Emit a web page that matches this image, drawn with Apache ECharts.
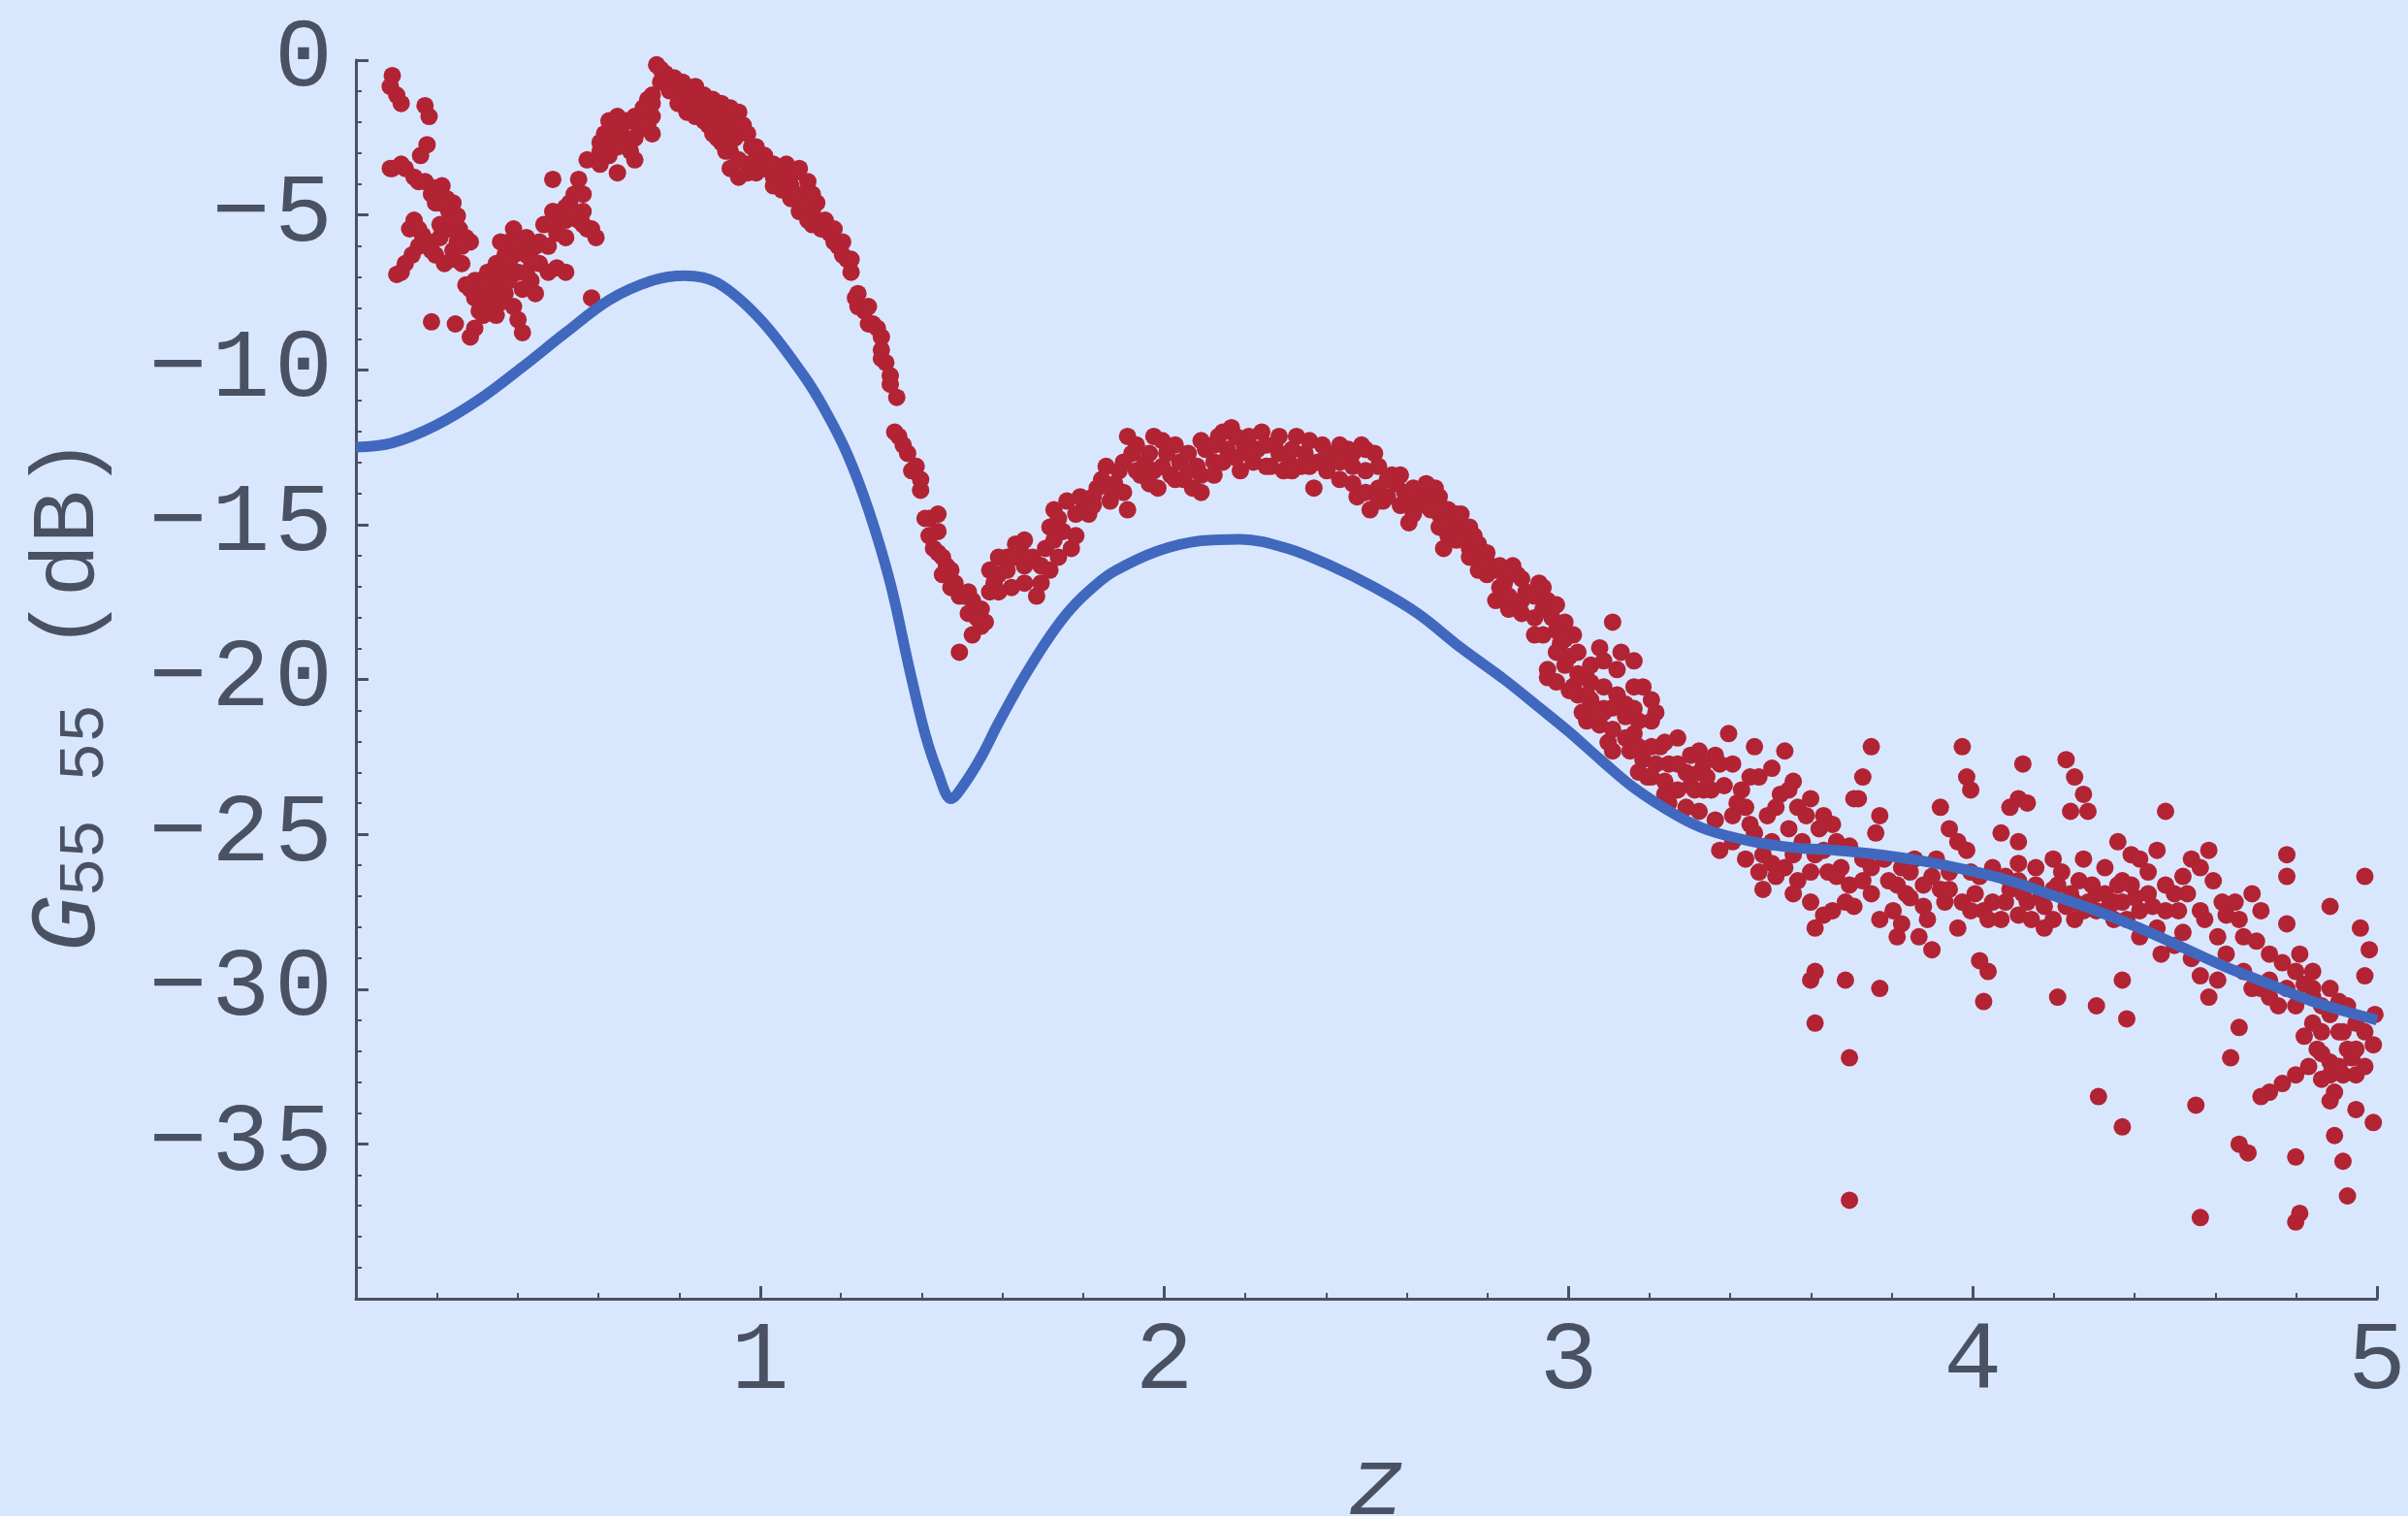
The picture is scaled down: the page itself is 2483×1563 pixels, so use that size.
<!DOCTYPE html>
<html><head><meta charset="utf-8">
<script src="https://cdn.jsdelivr.net/npm/echarts@6/dist/echarts.min.js"></script>
<style>html,body{margin:0;padding:0;background:#d9e7fe;overflow:hidden}#c{width:2483px;height:1563px}</style>
</head><body><div id="c"></div>
<script>
// ---- tick labels ----
const xTickLabels = [1, 2, 3, 4, 5];
const yTickLabels = [0, -5, -10, -15, -20, -25, -30, -35];

// ---- theoretical curve (blue) ----
const curveZ = [0.000,0.090,0.197,0.305,0.412,0.519,0.626,0.733,0.813,0.894,1.001,1.108,1.161,1.215,1.268,1.322,1.370,1.408,1.440,1.472,1.504,1.547,1.590,1.654,1.717,1.770,1.830,1.877,1.984,2.091,2.188,2.305,2.412,2.520,2.627,2.734,2.841,2.927,3.002,3.080,3.162,3.269,3.342,3.449,3.556,3.663,3.770,3.878,3.985,4.092,4.199,4.306,4.413,4.520,4.627,4.734,4.841,5.000];
const curveG = [-12.50,-12.36,-11.80,-10.96,-9.91,-8.80,-7.75,-7.12,-6.96,-7.19,-8.38,-10.19,-11.31,-12.70,-14.52,-16.89,-19.70,-21.75,-23.01,-23.85,-23.40,-22.50,-21.40,-19.90,-18.60,-17.70,-16.95,-16.50,-15.85,-15.52,-15.47,-15.77,-16.33,-17.03,-17.87,-18.98,-20.00,-20.90,-21.70,-22.60,-23.50,-24.40,-24.85,-25.22,-25.43,-25.52,-25.66,-25.87,-26.15,-26.50,-26.98,-27.47,-28.03,-28.66,-29.29,-29.84,-30.40,-31.00];

// ---- measured points (red), [z, G] ----
const measuredLow = [
[0.090,-0.50],[0.085,-0.85],[0.101,-1.13],[0.112,-1.40],[0.171,-1.47],[0.181,-1.82],
[0.176,-2.73],[0.160,-3.08],[0.090,-3.50],[0.122,-3.50],[0.144,-3.78],[0.171,-3.92],[0.197,-4.13],[0.213,-4.06],[0.224,-4.47],[0.240,-4.61],[0.230,-4.89],[0.251,-5.03],[0.256,-5.45],[0.272,-5.73],[0.283,-5.87],
[0.144,-5.17],[0.133,-5.45],[0.165,-5.66],[0.181,-5.87],[0.155,-6.01],[0.139,-6.29],[0.122,-6.57],[0.101,-6.92],[0.197,-6.29],[0.219,-6.57],[0.240,-6.43],[0.262,-6.57],
[0.294,-7.12],[0.283,-7.40],[0.305,-7.68],[0.326,-7.54],[0.347,-7.12],[0.369,-6.85],[0.358,-7.82],[0.337,-7.96],[0.315,-8.24],[0.294,-8.66],[0.283,-8.94],
[0.390,-6.29],[0.379,-5.87],[0.390,-5.45],[0.412,-5.87],[0.422,-6.29],[0.444,-6.01],[0.454,-6.57],[0.476,-6.85],[0.497,-6.71],[0.519,-6.85],[0.433,-7.12],[0.412,-7.40],[0.444,-7.54],[0.390,-7.96],[0.401,-8.38],[0.412,-8.80],[0.187,-8.45],[0.246,-8.52],[0.583,-7.68],
[0.487,-5.17],[0.508,-4.89],[0.529,-4.61],[0.540,-4.33],[0.551,-5.17],[0.572,-5.45],[0.594,-5.73],[0.487,-3.85],[0.551,-3.85],[0.572,-3.22],[0.604,-3.36],[0.626,-3.08],[0.615,-2.38],[0.626,-1.96],[0.647,-2.24],[0.669,-2.52],[0.679,-2.94],[0.690,-2.52],[0.711,-2.10],[0.733,-1.82],[0.722,-1.27],[0.733,-2.38],[0.690,-3.22],[0.647,-3.64],
[0.197,-4.61],[0.208,-5.31],[0.230,-5.45],[0.251,-5.87],[0.240,-6.15],[0.305,-7.12],[0.326,-6.85],[0.347,-6.57],[0.369,-6.29],[0.358,-5.87],[0.337,-7.40],[0.369,-7.54],[0.305,-8.10],[0.454,-5.87],[0.476,-6.01],[0.497,-5.59],[0.519,-5.17],[0.519,-5.73],[0.562,-4.89],[0.583,-5.45],[0.604,-2.94],[0.637,-2.66],[0.658,-2.10],[0.679,-1.96],[0.701,-2.24],[0.722,-1.68],[0.733,-1.40]
];
const measuredLowFill = [
[0.085,-3.50],[0.112,-3.36],[0.112,-6.85],[0.155,-3.92],[0.155,-5.45],[0.187,-4.33],[0.187,-6.15],[0.208,-4.61],[0.208,-5.73],[0.240,-5.17],[0.262,-6.01],[0.272,-7.26],[0.294,-7.68],[0.315,-7.26],[0.315,-7.82],[0.347,-7.68],[0.347,-8.24],[0.379,-6.57],[0.379,-7.12],[0.401,-6.01],[0.401,-6.85],[0.422,-5.73],[0.422,-6.85],[0.433,-6.43],[0.465,-5.31],[0.487,-4.89],[0.519,-4.75],[0.540,-5.03],[0.562,-4.33],[0.562,-5.31],[0.604,-2.66],[0.626,-2.52],[0.647,-1.82],[0.647,-2.80],[0.669,-1.96],[0.690,-1.82],[0.711,-1.54],[0.733,-1.13],[0.722,-2.10]
];
const measuredPeak = [
[0.744,-0.15],[0.765,-0.43],[0.787,-0.57],[0.808,-0.71],[0.829,-0.99],[0.840,-1.27],[0.861,-1.54],[0.883,-1.68],[0.904,-1.82],[0.926,-1.96],[0.947,-1.68],[0.958,-2.10],[0.872,-2.10],[0.894,-2.52],[0.915,-2.94],[0.926,-3.50],[0.947,-3.78],[0.969,-3.36],[0.990,-3.22],[1.011,-3.50],[1.033,-3.78],[1.054,-3.50],[1.097,-3.50],[1.118,-3.92],[1.054,-4.19],[1.076,-4.47],[1.097,-4.89],[1.118,-5.17],[1.140,-4.61],[1.151,-5.45],[1.172,-5.59],[1.193,-6.01],[1.215,-6.43],[1.225,-6.85],[1.236,-7.68],[1.258,-8.10],[1.279,-8.52],[1.300,-8.94],[1.311,-9.77],[1.322,-10.19],[1.338,-10.89],[1.343,-12.15],[1.365,-12.70],[1.386,-13.12],[1.397,-13.89],[1.418,-14.80],[1.440,-15.22],[1.429,-15.77],[1.461,-16.33],[1.482,-16.89],[1.504,-17.31],[1.525,-17.45],[1.547,-17.73],[1.557,-18.15],[1.525,-18.56],[1.493,-19.12],[1.568,-17.17],[1.590,-16.61],[1.611,-16.05],[1.643,-15.77],[1.654,-16.89],[1.440,-14.66],[1.451,-16.05],[1.472,-16.47],[1.579,-16.89],[1.632,-15.63],[1.622,-17.03],[1.547,-18.28],
[0.797,-0.99],[0.819,-1.40],[0.851,-1.13],[0.894,-2.10],[0.915,-2.24],[0.937,-2.52],[0.979,-2.80],[1.011,-3.08],[1.054,-3.78],[1.076,-4.06],[1.108,-4.33],[1.129,-4.89],[1.161,-5.17],[1.183,-5.87],[1.204,-6.29]
];
const measuredPeakFill = [
[0.754,-0.29],[0.754,-0.71],[0.776,-0.57],[0.776,-0.99],[0.797,-0.71],[0.797,-1.40],[0.819,-0.85],[0.819,-1.68],[0.840,-0.85],[0.840,-1.82],[0.861,-1.13],[0.861,-1.96],[0.883,-1.27],[0.883,-2.38],[0.904,-1.40],[0.904,-2.66],[0.926,-1.54],[0.926,-2.94],[0.947,-2.10],[0.947,-3.22],[0.969,-2.38],[0.969,-3.64],[0.990,-2.80],[0.990,-3.64],[1.011,-3.36],[1.033,-3.36],[1.033,-4.06],[1.065,-3.36],[1.065,-3.92],[1.086,-3.64],[1.086,-4.33],[1.108,-4.75],[1.129,-4.33],[1.129,-5.31],[1.161,-5.45],[1.183,-5.45],[1.204,-5.87],[1.225,-6.43],
[1.242,-7.54],[1.242,-7.96],[1.268,-7.96],[1.268,-8.52],[1.290,-8.66],[1.300,-9.36],[1.300,-9.64],[1.322,-10.47],[1.333,-12.01],[1.354,-12.43],[1.375,-13.26],[1.397,-13.54],[1.408,-14.80],[1.418,-15.36],[1.440,-15.91],[1.451,-16.61],[1.472,-17.03],[1.493,-17.31],[1.515,-17.17],[1.515,-17.87],[1.536,-18.01],[1.568,-16.47],[1.590,-16.05],[1.590,-17.17],[1.611,-16.47],[1.632,-16.05],[1.654,-15.50],[1.654,-16.33]
];
const measuredMid = [
[1.684,-17.31],[1.674,-16.05],[1.706,-15.77],[1.727,-15.50],[1.749,-15.22],[1.770,-15.77],[1.727,-14.52],[1.759,-14.24],[1.792,-14.10],[1.813,-14.66],[1.834,-13.82],[1.856,-13.12],[1.877,-13.68],[1.909,-14.52],[1.909,-12.15],[1.974,-12.15],[1.920,-12.70],[1.941,-13.40],[1.974,-13.26],[2.006,-12.70],[2.038,-12.98],[2.070,-13.82],[2.091,-13.96],[2.102,-12.57],[2.134,-12.15],[2.166,-11.87],[2.198,-12.43],[2.220,-12.98],[2.241,-12.01],[2.273,-12.43],[2.306,-12.84],[2.327,-12.15],[2.348,-12.70],[2.370,-13.82],[2.391,-12.43],[2.413,-12.98],[2.455,-12.57],[2.488,-12.43],[2.520,-12.70],[2.434,-13.54],[2.477,-14.10],[2.509,-14.52],[2.530,-13.82],[2.563,-13.40],[2.595,-13.96],[2.605,-14.94],[2.627,-14.10],[2.670,-13.82],[2.680,-14.66],[2.691,-15.77],[2.713,-14.94],[2.734,-14.66],[2.745,-15.50],[2.766,-15.36],[2.788,-16.05],[2.820,-16.47],[2.862,-16.33],[2.820,-17.45],[2.852,-17.73],[2.895,-17.17],[2.927,-16.89],[2.948,-17.45],[2.916,-18.56],[2.959,-18.01],[2.980,-18.84],[3.002,-19.26],[2.948,-19.68],[3.012,-18.56],[3.045,-19.96],[3.055,-20.66],[3.087,-20.24],[3.109,-18.15],[3.077,-18.98],[3.130,-19.12],[3.162,-19.40],[3.184,-20.24],[3.141,-20.80],[3.216,-21.07],
[1.802,-14.38],[1.845,-13.54],[1.888,-13.26],[1.952,-12.98],[1.984,-13.82],[2.016,-13.40],[2.048,-13.54],[2.081,-13.12],[2.123,-12.98],[2.156,-12.57],[2.188,-13.26],[2.230,-12.57],[2.263,-13.12],[2.295,-13.26],[2.338,-13.12],[2.380,-12.98],[2.423,-12.70],[2.466,-13.12],[2.498,-13.26],[2.541,-14.24],[2.573,-13.68],[2.616,-14.38],[2.648,-13.96],[2.659,-14.52],[2.702,-15.36],[2.723,-15.08],[2.755,-15.77],[2.777,-16.19],[2.798,-16.61],[2.841,-16.89],[2.873,-16.61],[2.884,-17.45],[2.937,-17.73],[2.970,-18.42],[2.991,-18.15],
[2.948,-19.94],[3.012,-20.22],[3.034,-21.06],[3.055,-20.78],[3.077,-21.47],[3.098,-22.03],[3.120,-20.50],[3.141,-21.20],[3.162,-21.75],[3.184,-22.59],[3.205,-21.34],[3.227,-22.17],[3.248,-22.73],[3.270,-21.89],[3.291,-23.01],[3.312,-23.57],[3.334,-22.73],[3.323,-24.26],[3.291,-24.13],[3.248,-23.99],[3.195,-23.15],
[3.023,-20.50],[3.087,-21.06],[3.109,-21.61],[3.152,-22.31],[3.173,-21.34],[3.216,-22.73],[3.238,-23.29],[3.270,-23.57],[3.302,-22.45],[3.334,-23.57]
];
const measuredMidFill = [
[1.695,-16.33],[1.695,-16.89],[1.717,-15.08],[1.717,-16.47],[1.738,-14.80],[1.738,-16.05],[1.781,-14.66],[1.781,-15.36],[1.824,-14.10],[1.824,-14.38],[1.866,-13.82],[1.866,-14.24],[1.899,-12.98],[1.899,-13.96],[1.931,-12.43],[1.931,-13.26],[1.963,-12.70],[1.963,-13.68],[1.995,-12.29],[1.995,-13.12],[2.027,-12.43],[2.027,-13.54],[2.059,-12.70],[2.059,-13.26],[2.091,-12.29],[2.091,-13.40],[2.123,-12.43],[2.123,-13.40],[2.145,-12.01],[2.145,-12.98],[2.177,-12.15],[2.177,-12.84],[2.209,-12.15],[2.209,-12.70],[2.252,-12.43],[2.252,-13.12],[2.284,-12.15],[2.284,-12.70],[2.316,-12.57],[2.316,-13.26],[2.359,-12.29],[2.359,-13.12],[2.402,-12.70],[2.402,-13.26],[2.434,-12.43],[2.434,-12.98],[2.466,-12.70],[2.466,-13.68],[2.498,-12.57],[2.498,-13.96],[2.530,-13.12],[2.530,-14.24],[2.552,-13.54],[2.552,-14.10],[2.584,-13.40],[2.584,-14.38],[2.616,-13.82],[2.616,-14.66],[2.648,-13.68],[2.648,-14.38],[2.680,-14.10],[2.680,-15.08],[2.702,-14.52],[2.702,-14.94],[2.723,-14.66],[2.723,-15.50],[2.755,-15.08],[2.755,-16.05],[2.777,-15.63],[2.777,-16.47],[2.798,-15.91],[2.798,-16.19],[2.830,-16.33],[2.830,-17.03],[2.852,-16.61],[2.852,-17.31],[2.884,-16.75],[2.884,-17.87],[2.916,-17.31],[2.916,-18.01],[2.937,-17.03],[2.937,-18.56],[2.970,-17.59],[2.970,-19.12],[2.991,-18.70],[2.991,-19.54],[3.023,-19.12],[3.023,-19.82],[3.055,-19.54],[3.055,-20.10],[3.087,-19.40],[3.087,-20.94],[3.120,-19.68],[3.120,-20.52],[3.162,-20.24],[3.162,-20.94],[3.205,-20.66],
[2.970,-20.08],[3.002,-20.36],[3.045,-20.50],[3.045,-21.34],[3.066,-21.06],[3.109,-20.92],[3.109,-22.31],[3.141,-21.89],[3.173,-22.17],[3.173,-22.99],[3.205,-22.17],[3.205,-23.15],[3.238,-22.03],[3.238,-23.71],[3.270,-22.73],[3.302,-23.43],[3.323,-22.31],[3.323,-23.01]
];
const measuredTail = [
[3.396,-21.75],[3.363,-22.45],[3.406,-22.73],[3.385,-23.43],[3.428,-23.57],[3.471,-23.15],[3.460,-22.17],[3.535,-22.31],[3.503,-22.87],[3.524,-23.71],[3.492,-24.40],[3.556,-23.29],[3.567,-24.13],[3.545,-24.82],[3.588,-24.40],[3.578,-25.24],[3.620,-24.82],[3.653,-24.68],[3.663,-25.24],[3.374,-25.52],[3.406,-25.24],[3.481,-25.66],[3.438,-25.80],[3.535,-26.08],[3.567,-26.50],[3.481,-26.78],[3.610,-25.66],[3.642,-26.22],[3.674,-26.08],[3.695,-26.64],[3.685,-27.19],[3.653,-27.47],[3.610,-28.03],[3.631,-27.61],[3.706,-27.33],
[3.749,-22.17],[3.728,-23.15],[3.717,-23.85],[3.770,-24.40],[3.760,-24.96],[3.781,-25.80],[3.792,-26.50],[3.824,-26.08],[3.856,-25.80],[3.835,-26.92],[3.803,-27.47],[3.824,-27.89],[3.878,-27.33],[3.899,-26.36],[3.920,-26.78],[3.942,-24.82],[3.920,-24.13],[3.963,-25.24],[3.985,-25.52],[3.942,-26.22],[3.974,-27.19],[3.963,-28.03],[3.867,-28.31],[3.899,-28.73],
[3.995,-26.22],[4.006,-26.92],[4.027,-27.47],[4.049,-27.19],[4.070,-27.75],[4.092,-26.78],[4.113,-26.50],[4.135,-27.19],[4.156,-26.64],[4.177,-27.33],[4.199,-26.78],[4.220,-26.22],[4.242,-26.92],[4.263,-26.50],[4.285,-27.19],[4.306,-27.47],[4.327,-26.92],[4.349,-27.75],[4.370,-27.19],[4.392,-26.64],[4.413,-27.47],[4.434,-26.92],[4.456,-28.03],[4.477,-27.47],[4.499,-26.92],[4.520,-26.36],[4.541,-25.80],[4.563,-26.08],[4.584,-25.52],
[4.499,-28.59],[4.541,-29.01],[4.563,-29.57],[4.584,-30.26],[4.606,-29.71],[4.627,-27.61],[4.649,-27.19],[4.670,-28.31],[4.691,-26.92],[4.713,-27.47],[4.713,-29.98],[4.734,-29.71],[4.756,-30.54],[4.799,-29.43],[4.820,-29.84],[4.841,-29.43],[4.863,-30.54],[4.884,-29.98],[4.906,-30.40],[4.927,-30.54],[4.948,-31.10],[4.970,-31.38],[4.991,-31.80],
[4.841,-31.10],[4.820,-31.52],[4.852,-31.94],[4.884,-32.36],[4.863,-32.91],[4.895,-33.33],[4.916,-32.77],[4.938,-32.22],[4.799,-32.77],[4.766,-33.05],[4.734,-33.33],[4.713,-33.47],[4.884,-33.61],[4.948,-33.89],[4.991,-34.31],
[4.959,-28.03],[4.981,-28.73],[4.970,-29.57],[4.995,-30.82],[4.884,-27.33],[4.970,-26.36],[4.777,-25.66],[4.777,-26.36],[4.777,-27.89],[4.659,-31.24],[4.638,-32.22],[4.552,-33.75],[4.659,-35.01],[4.681,-35.29],[4.799,-35.42],[4.895,-34.73],[4.916,-35.56],[4.927,-36.68],[4.799,-37.52],[4.809,-37.24],[4.563,-37.38],
[4.370,-34.45],[4.311,-33.47],[4.210,-30.26],[4.306,-30.54],[4.381,-30.96],[4.370,-29.71],[4.027,-30.40],[4.038,-29.43],[4.017,-29.08],
[4.124,-22.73],[4.113,-23.85],[4.092,-24.13],[4.135,-23.99],[4.113,-25.24],[4.070,-24.96],[4.231,-22.59],[4.252,-23.15],[4.274,-23.71],[4.285,-24.26],[4.242,-24.26],[4.477,-24.26],[4.359,-25.24],[4.392,-25.66],[4.413,-25.80],[4.456,-25.52],[4.434,-26.22],
[3.974,-22.17],[3.985,-23.15],[3.995,-23.57],[3.706,-23.85],[3.770,-29.98],[3.610,-31.10],[3.599,-29.71],[3.610,-29.43],[3.685,-29.71],[3.695,-32.22],[3.695,-36.82],
[4.359,-26.64],[4.327,-26.08],[4.274,-25.80],[4.199,-25.80],[4.156,-26.08],[4.113,-25.94],
[3.353,-23.57],[3.438,-24.13],[3.449,-24.68],[3.406,-24.40],[3.503,-25.24],[3.556,-25.66],[3.599,-26.22],[3.513,-26.36],[3.460,-24.96],[3.631,-25.52],[3.695,-25.38],[3.728,-25.80],[3.749,-26.92],[3.770,-27.75],[3.813,-28.31],[3.845,-27.05],[3.888,-27.75],[3.931,-27.19],[4.017,-26.36],[4.049,-26.08],[4.081,-27.19],[4.113,-27.61],[4.145,-27.75],[4.177,-28.03],[4.199,-27.75],[4.231,-27.33],[4.252,-27.75],[4.274,-27.47],[4.306,-26.92],[4.349,-27.19],[4.381,-27.75],[4.413,-28.31],[4.466,-28.87],[4.520,-28.17],[4.574,-27.75],[4.606,-28.31],[4.627,-28.87],[4.670,-29.43],[4.691,-29.98],[4.734,-30.26],[4.777,-29.98],[4.799,-30.54],[4.841,-30.26],[4.863,-31.38],[4.906,-31.38],[4.927,-31.94],[4.884,-32.77],[4.906,-32.50],[4.948,-32.77],[4.970,-32.50]
];
const measuredTailFill = [
[3.342,-23.15],[3.374,-22.73],[3.363,-24.54],[3.417,-23.99],[3.449,-23.15],[3.513,-24.13],[3.545,-23.57],[3.599,-23.85],[3.631,-24.40],[3.471,-26.22],[3.503,-25.94],[3.556,-26.92],[3.599,-27.19],[3.663,-26.36],[3.728,-26.50],[3.749,-26.08],[3.813,-26.64],[3.845,-26.22],[3.878,-26.64],[3.910,-25.80],[3.942,-26.78],[3.995,-27.47],[4.038,-27.75],[4.081,-26.36],[4.124,-26.92],[4.167,-27.05],[4.210,-26.64],[4.252,-27.19],[4.295,-26.64],[4.338,-27.33],[4.370,-26.50],[4.402,-27.05],[4.445,-27.33],[4.477,-26.64],[4.509,-27.47],[4.531,-26.92],[4.563,-27.47],[4.595,-26.50],[4.617,-27.19],[4.659,-27.75],[4.702,-28.45],[4.734,-28.87],[4.766,-29.15],[4.809,-28.87],[4.841,-29.98],[4.884,-30.82],[4.916,-31.38],[4.948,-31.94],[4.863,-32.08],[4.831,-32.50]
];

// ---- styling ----
const INK = '#4a5163';
const BG = '#d9e7fe';
const RED = '#b22334';
const BLUE = '#4068be';
const MONO = '"Liberation Mono", "DejaVu Sans Mono", monospace';

const spaced = s => String(s).split('').join('{s| }');
const signed = v => (v < 0 ? '\u2212' : '') + Math.abs(v);

const curveData = curveZ.map((z, i) => [z, curveG[i]]);
const measuredData = measuredLow.concat(measuredLowFill, measuredPeak, measuredPeakFill, measuredMid, measuredMidFill, measuredTail, measuredTailFill);

const chart = echarts.init(document.getElementById('c'), null, {renderer: 'canvas'});
chart.setOption({
  backgroundColor: BG,
  animation: false,
  grid: {left: 367, right: 32, top: 62, height: 1277, containLabel: false, outerBoundsMode: 'none'},
  xAxis: {
    type: 'value', min: 0, max: 5, interval: 1,
    axisLine: {show: true, onZero: false, lineStyle: {color: INK, width: 3}},
    axisTick: {show: true, inside: true, length: 13, lineStyle: {color: INK, width: 3}},
    minorTick: {show: true, splitNumber: 5, length: 6, lineStyle: {color: INK, width: 2}},
    splitLine: {show: false},
    axisLabel: {
      margin: 16, color: INK, fontFamily: MONO, fontSize: 100,
      showMinLabel: true, showMaxLabel: true,
      formatter: v => xTickLabels.includes(v) ? spaced(v) : '',
      rich: {s: {fontSize: 8, fontFamily: MONO}}
    }
  },
  yAxis: {
    type: 'value', min: -40, max: 0, interval: 5,
    axisLine: {show: true, onZero: false, lineStyle: {color: INK, width: 3}},
    axisTick: {show: true, inside: true, length: 13, lineStyle: {color: INK, width: 3}},
    minorTick: {show: true, splitNumber: 5, length: 6, lineStyle: {color: INK, width: 2}},
    splitLine: {show: false},
    axisLabel: {
      margin: 24, color: INK, fontFamily: MONO, fontSize: 100,
      showMinLabel: true, showMaxLabel: true,
      formatter: v => yTickLabels.includes(v) ? spaced(signed(v)) : '',
      rich: {s: {fontSize: 8, fontFamily: MONO}}
    }
  },
  graphic: [
    {
      type: 'text', x: 72, y: 716, rotation: Math.PI / 2, z: 10,
      style: {
        text: '{g|G}{sub|55 55}{p| (dB)}',
        align: 'center', verticalAlign: 'middle', fill: INK,
        rich: {
          g: {fontFamily: MONO, fontStyle: 'italic', fontSize: 96, lineHeight: 100, fill: INK},
          sub: {fontFamily: MONO, fontSize: 66, lineHeight: 66, verticalAlign: 'bottom', fill: INK},
          p: {fontFamily: MONO, fontSize: 92, lineHeight: 100, fill: INK}
        }
      }
    },
    {
      type: 'text', x: 1420, y: 1535, z: 10,
      style: {text: 'z', fontFamily: MONO, fontStyle: 'italic', fontSize: 100, fill: INK, align: 'center', verticalAlign: 'middle'}
    }
  ],
  series: [
    {
      type: 'scatter', data: measuredData, symbol: 'circle', symbolSize: 18,
      itemStyle: {color: RED, opacity: 1}, z: 2, silent: true
    },
    {
      type: 'line', data: curveData, smooth: 0.35, showSymbol: false,
      lineStyle: {color: BLUE, width: 11}, z: 3, silent: true
    }
  ]
});
</script>
</body></html>
